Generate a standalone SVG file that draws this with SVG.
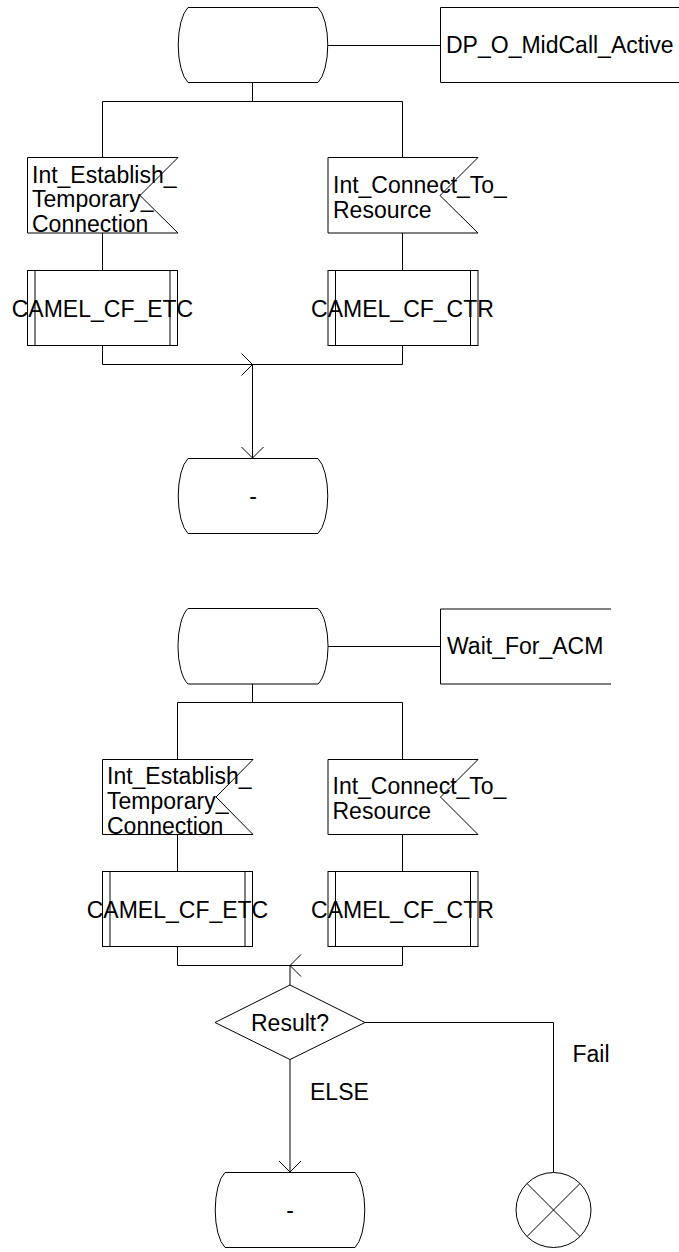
<svg xmlns="http://www.w3.org/2000/svg" width="679" height="1252" viewBox="0 0 679 1252">
<style>
.s{fill:#fff;stroke:#000;stroke-width:1}
.l{fill:none;stroke:#000;stroke-width:1}
text{font-family:"Liberation Sans",Arial,sans-serif;font-size:23px;fill:#000}
.m{text-anchor:middle}
</style>
<defs>
<marker id="ah" markerUnits="userSpaceOnUse" markerWidth="24" markerHeight="26" refX="12" refY="12" orient="auto" viewBox="0 0 24 24" overflow="visible">
<path d="M1,1 L12,12 L1,23" fill="none" stroke="#000" stroke-width="1"/>
</marker>
</defs>
<rect width="679" height="1252" fill="#fff"/>

<g id="connectors">
<path class="l" d="M328,45.5 H440.5"/>
<path class="l" d="M252.5,82 V101.5"/>
<path class="l" d="M102.5,157 V101.5 H402.5 V157"/>
<path class="l" d="M102.5,233 V270"/>
<path class="l" d="M402.5,233 V270"/>
<path class="l" d="M102.5,345 V364.5 H252.5" marker-end="url(#ah)"/>
<path class="l" d="M402.5,345 V364.5 H252.5"/>
<path class="l" d="M252.5,364.5 V458" marker-end="url(#ah)"/>

<path class="l" d="M328,646.5 H440.5"/>
<path class="l" d="M252.5,684 V702.5"/>
<path class="l" d="M177.5,759 V702.5 H402.5 V759"/>
<path class="l" d="M177.5,834 V871.5"/>
<path class="l" d="M402.5,834 V871.5"/>
<path class="l" d="M177.5,946.5 V965.5 H290"/>
<path class="l" d="M402.5,946.5 V965.5 H290" marker-end="url(#ah)"/>
<path class="l" d="M290,965.5 V985"/>
<path class="l" d="M290,1059.5 V1172" marker-end="url(#ah)"/>
<path class="l" d="M365,1022.5 H553.5 V1172.5"/>
</g>

<g id="state1">
<path class="s" d="M188,7.5 H318 A15 40 0 0 1 318,82.5 H188 A15 40 0 0 1 188,7.5 Z"/>
</g>
<g id="dp_o_midcall_active">
<path class="l" d="M680,7.5 H440.5 V82.5 H680"/>
<text x="446" y="53">DP_O_MidCall_Active</text>
</g>
<g id="int_establish_1">
<path class="s" d="M27.5,157.5 H178 L140,195.5 L178,233 H27.5 Z"/>
<text x="32" y="183">Int_Establish_</text>
<text x="32" y="207">Temporary_</text>
<text x="32" y="231.5">Connection</text>
</g>
<g id="int_connect_1">
<path class="s" d="M328,157.5 H478 L440,195.5 L478,233 H328 Z"/>
<text x="333" y="193">Int_Connect_To_</text>
<text x="333" y="217.5">Resource</text>
</g>
<g id="camel_cf_etc_1">
<rect class="s" x="27.5" y="270.5" width="150" height="75"/>
<path class="l" d="M35,270.5 V345.5 M170,270.5 V345.5"/>
<text class="m" x="102.5" y="316.5">CAMEL_CF_ETC</text>
</g>
<g id="camel_cf_ctr_1">
<rect class="s" x="328" y="270.5" width="150" height="75"/>
<path class="l" d="M335.5,270.5 V345.5 M470.5,270.5 V345.5"/>
<text class="m" x="402.5" y="316.5">CAMEL_CF_CTR</text>
</g>
<g id="state1_end">
<path class="s" d="M188,458.5 H318 A15 40 0 0 1 318,533.5 H188 A15 40 0 0 1 188,458.5 Z"/>
<text class="m" x="253" y="504">-</text>
</g>

<g id="state2">
<path class="s" d="M188,608.5 H318 A15 40 0 0 1 318,684 H188 A15 40 0 0 1 188,608.5 Z"/>
</g>
<g id="wait_for_acm">
<path class="l" d="M611,609 H440.5 V684 H611"/>
<text x="447" y="653.5">Wait_For_ACM</text>
</g>
<g id="int_establish_2">
<path class="s" d="M102.5,759.5 H253 L216,797 L253,834.5 H102.5 Z"/>
<text x="107" y="784">Int_Establish_</text>
<text x="107" y="809">Temporary_</text>
<text x="107" y="834">Connection</text>
</g>
<g id="int_connect_2">
<path class="s" d="M328,759.5 H478 L440.5,797 L478,834.5 H328 Z"/>
<text x="332.5" y="794">Int_Connect_To_</text>
<text x="332.5" y="819">Resource</text>
</g>
<g id="camel_cf_etc_2">
<rect class="s" x="102.5" y="871.5" width="150" height="75"/>
<path class="l" d="M110,871.5 V946.5 M245,871.5 V946.5"/>
<text class="m" x="177.5" y="917.5">CAMEL_CF_ETC</text>
</g>
<g id="camel_cf_ctr_2">
<rect class="s" x="328" y="871.5" width="150" height="75"/>
<path class="l" d="M335.5,871.5 V946.5 M470.5,871.5 V946.5"/>
<text class="m" x="402.5" y="917.5">CAMEL_CF_CTR</text>
</g>
<g id="result">
<path class="s" d="M290,985 L365,1022.5 L290,1059.5 L215,1022.5 Z"/>
<text class="m" x="290" y="1030.5">Result?</text>
</g>
<g id="labels">
<text x="572.5" y="1062">Fail</text>
<text x="310" y="1099.5">ELSE</text>
</g>
<g id="state2_end">
<path class="s" d="M225,1172.5 H355 A15 40 0 0 1 355,1247.5 H225 A15 40 0 0 1 225,1172.5 Z"/>
<text class="m" x="290" y="1217.5">-</text>
</g>
<g id="stop">
<circle class="s" cx="553.5" cy="1210" r="37.5"/>
<path class="l" d="M527,1183.5 L580,1236.5 M580,1183.5 L527,1236.5"/>
</g>
</svg>
